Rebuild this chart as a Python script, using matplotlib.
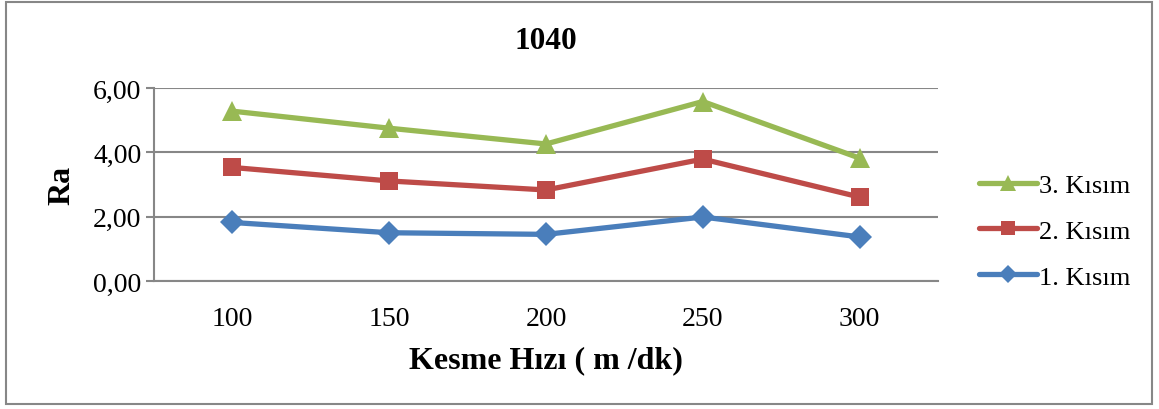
import matplotlib
matplotlib.use("Agg")
import matplotlib.pyplot as plt
from matplotlib.patches import Rectangle
from matplotlib.lines import Line2D
from matplotlib.ticker import FuncFormatter

# Kesme hızı kategorileri ve Ra değerleri
hizlar = ["100", "150", "200", "250", "300"]
kisim_1 = [1.82, 1.50, 1.45, 1.99, 1.37]
kisim_2 = [3.53, 3.11, 2.83, 3.79, 2.61]
kisim_3 = [5.28, 4.75, 4.26, 5.58, 3.82]

seriler = ["1. Kısım", "2. Kısım", "3. Kısım"]
renkler = ["#4A7EBB", "#BE4B48", "#98B954"]
isaretler = ["D", "s", "^"]
boyutlar = [12, 13, 15]

plt.rcParams["font.family"] = ["Liberation Serif", "DejaVu Serif"]
gri = "#878787"

fig = plt.figure(figsize=(11.59, 4.10), dpi=100)
fig.patches.append(Rectangle((6 / 1159, 5 / 410), 1146 / 1159, 402 / 410,
                             transform=fig.transFigure, fill=False,
                             edgecolor=gri, linewidth=1.5))

ax = fig.add_axes([154 / 1159, 1 - 282 / 410, 784 / 1159, 193 / 410])
x = list(range(len(hizlar)))
for degerler, etiket, renk, isaret, boy in zip([kisim_1, kisim_2, kisim_3],
                                               seriler, renkler, isaretler, boyutlar):
    ax.plot(x, degerler, color=renk, linewidth=3.8, marker=isaret,
            markersize=boy, markeredgewidth=0, label=etiket,
            solid_capstyle="round", zorder=3)

ax.set_xlim(-0.5, len(hizlar) - 0.5)
ax.set_ylim(0, 6)
ax.set_yticks([0, 2, 4, 6])
ax.yaxis.set_major_formatter(FuncFormatter(lambda v, p: f"{v:.2f}".replace(".", ",")))
ax.set_xticks(x)
ax.set_xticklabels(hizlar)
ax.grid(axis="y", color=gri, linewidth=1.5, zorder=1)
ax.set_axisbelow(True)
for s in ["top", "right"]:
    ax.spines[s].set_visible(False)
for s in ["left", "bottom"]:
    ax.spines[s].set_color(gri)
    ax.spines[s].set_linewidth(1.5)
ax.tick_params(axis="y", length=6, width=1.5, color=gri, labelsize=20, pad=3)
ax.tick_params(axis="x", length=0, labelsize=20, pad=18)

ax.set_title("1040", fontsize=22.5, fontweight="bold", pad=29)
ax.set_xlabel("Kesme Hızı ( m /dk)", fontsize=23, fontweight="bold", labelpad=10)
ax.set_ylabel("Ra", fontsize=23, fontweight="bold", labelpad=12)

# lejant: 3. Kısım en üstte
tutamaclar = [Line2D([], [], color=r, linewidth=3.8, marker=m, markersize=b - 3,
                     markeredgewidth=0, solid_capstyle="round")
              for r, m, b in zip(renkler, isaretler, boyutlar)][::-1]
fig.legend(tutamaclar, seriler[::-1], loc="center left",
           bbox_to_anchor=(955 / 1159, 1 - 232 / 410), frameon=False,
           fontsize=19, handlelength=2.2, handletextpad=0.1,
           labelspacing=0.85)

fig.savefig("out.png", dpi=100)
